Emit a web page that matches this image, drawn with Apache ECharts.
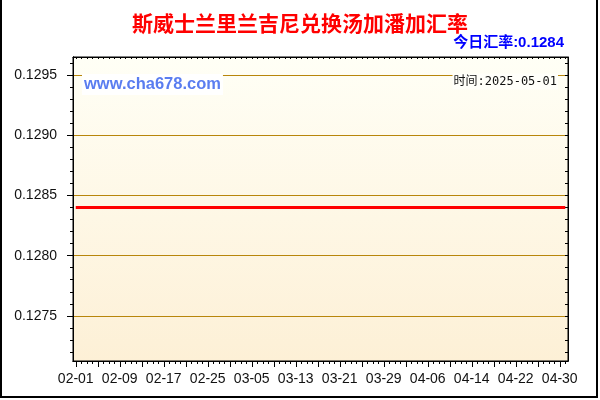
<!DOCTYPE html>
<html>
<head>
<meta charset="utf-8">
<script src="https://cdn.jsdelivr.net/npm/echarts@6/dist/echarts.min.js"></script>
<style>
  html, body { margin: 0; padding: 0; background: #fff; }
  #chart { width: 600px; height: 400px; }
</style>
</head>
<body>
<div id="chart"></div>
<script>
// 日期（02-01 ~ 05-01）
var dates = [
  '02-01','02-02','02-03','02-04','02-05','02-06','02-07','02-08','02-09','02-10',
  '02-11','02-12','02-13','02-14','02-15','02-16','02-17','02-18','02-19','02-20',
  '02-21','02-22','02-23','02-24','02-25','02-26','02-27','02-28',
  '03-01','03-02','03-03','03-04','03-05','03-06','03-07','03-08','03-09','03-10',
  '03-11','03-12','03-13','03-14','03-15','03-16','03-17','03-18','03-19','03-20',
  '03-21','03-22','03-23','03-24','03-25','03-26','03-27','03-28','03-29','03-30','03-31',
  '04-01','04-02','04-03','04-04','04-05','04-06','04-07','04-08','04-09','04-10',
  '04-11','04-12','04-13','04-14','04-15','04-16','04-17','04-18','04-19','04-20',
  '04-21','04-22','04-23','04-24','04-25','04-26','04-27','04-28','04-29','04-30',
  '05-01'
]

// 汇率
var rates = [
  0.1284,0.1284,0.1284,0.1284,0.1284,0.1284,0.1284,0.1284,0.1284,0.1284,
  0.1284,0.1284,0.1284,0.1284,0.1284,0.1284,0.1284,0.1284,0.1284,0.1284,
  0.1284,0.1284,0.1284,0.1284,0.1284,0.1284,0.1284,0.1284,
  0.1284,0.1284,0.1284,0.1284,0.1284,0.1284,0.1284,0.1284,0.1284,0.1284,
  0.1284,0.1284,0.1284,0.1284,0.1284,0.1284,0.1284,0.1284,0.1284,0.1284,
  0.1284,0.1284,0.1284,0.1284,0.1284,0.1284,0.1284,0.1284,0.1284,0.1284,0.1284,
  0.1284,0.1284,0.1284,0.1284,0.1284,0.1284,0.1284,0.1284,0.1284,0.1284,
  0.1284,0.1284,0.1284,0.1284,0.1284,0.1284,0.1284,0.1284,0.1284,0.1284,
  0.1284,0.1284,0.1284,0.1284,0.1284,0.1284,0.1284,0.1284,0.1284,0.1284,
  0.1284
]

// Y 轴刻度
var yTicks = [0.1275, 0.1280, 0.1285, 0.1290, 0.1295]
var yMinorTicks = [
  0.1272,0.1273,0.1274,0.1275,0.1276,0.1277,0.1278,0.1279,0.1280,0.1281,
  0.1282,0.1283,0.1284,0.1285,0.1286,0.1287,0.1288,0.1289,0.1290,0.1291,
  0.1292,0.1293,0.1294,0.1295,0.1296
]
var yMin = 0.127125
var yMax = 0.12965

var titleText = '斯威士兰里兰吉尼兑换汤加潘加汇率'
var todayText = '今日汇率:0.1284'
var siteText = 'www.cha678.com'
var timeText = '时间:2025-05-01'

var chart = echarts.init(document.getElementById('chart'))

var black = '#000'
var gridColor = '#b8860b'

var xBase = {
  type: 'category',
  data: dates,
  boundaryGap: true,
  axisLine: { show: true, lineStyle: { color: black } },
  splitLine: { show: false }
}

var yBase = {
  type: 'value',
  min: yMin,
  max: yMax,
  axisLine: { show: true, lineStyle: { color: black } },
  splitLine: { show: false },
  axisLabel: { show: false }
}

chart.setOption({
  animation: false,
  backgroundColor: '#fff',
  grid: {
    left: 73, right: 32, top: 57, bottom: 39,
    show: true,
    borderColor: black,
    borderWidth: 1,
    backgroundColor: {
      type: 'linear', x: 0, y: 0, x2: 0, y2: 1,
      colorStops: [
        { offset: 0, color: '#fffff6' },
        { offset: 1, color: '#fdf0d6' }
      ]
    }
  },
  xAxis: [
    Object.assign({}, xBase, {
      position: 'bottom',
      axisTick: {
        show: true, alignWithLabel: true, length: 6, lineStyle: { color: black },
        interval: function (i) { return i % 4 === 0 }
      },
      axisLabel: {
        margin: 11, fontSize: 14, color: '#111', fontFamily: 'Liberation Sans, Arial',
        interval: function (i) { return i % 8 === 0 }
      }
    }),
    Object.assign({}, xBase, {
      position: 'bottom',
      axisTick: { show: true, alignWithLabel: true, length: 3, interval: 0, lineStyle: { color: black } },
      axisLabel: { show: false }
    }),
    Object.assign({}, xBase, {
      position: 'top',
      axisTick: { show: true, alignWithLabel: true, inside: true, length: 2, interval: 0, lineStyle: { color: black } },
      axisLabel: { show: false }
    })
  ],
  yAxis: [
    Object.assign({}, yBase, {
      position: 'left',
      axisTick: { show: true, length: 6, customValues: yTicks, lineStyle: { color: black } },
      axisLabel: {
        show: true, customValues: yTicks, margin: 16, fontSize: 14, color: '#111',
        fontFamily: 'Liberation Sans, Arial',
        formatter: function (v) { return v.toFixed(4) }
      },
      splitLine: { show: true, lineStyle: { color: gridColor, width: 1 } }
    }),
    Object.assign({}, yBase, {
      position: 'left',
      axisTick: { show: true, length: 3, customValues: yMinorTicks, lineStyle: { color: black } }
    }),
    Object.assign({}, yBase, {
      position: 'right',
      axisTick: { show: true, inside: true, length: 3, customValues: yMinorTicks, lineStyle: { color: black } }
    })
  ],
  series: [{
    type: 'line',
    data: rates,
    xAxisIndex: 0,
    yAxisIndex: 0,
    symbol: 'none',
    lineStyle: { color: '#ff0000', width: 3 },
    z: 5
  }],
  graphic: [
    {
      type: 'rect', silent: true, z: 100,
      shape: { x: 1, y: -2, width: 596, height: 399 },
      style: { fill: 'none', stroke: black, lineWidth: 2 }
    },
    {
      type: 'text', x: 300, y: 23, z: 100,
      style: {
        text: titleText, fill: '#ff0000', align: 'center', verticalAlign: 'middle',
        font: 'bold 21px "Noto Sans CJK SC", sans-serif'
      }
    },
    {
      type: 'text', x: 564, y: 43, z: 100,
      style: {
        text: todayText, fill: '#0000ff', align: 'right', verticalAlign: 'middle',
        font: 'bold 15px "Liberation Sans", "Noto Sans CJK SC", sans-serif'
      }
    },
    {
      type: 'text', x: 82, y: 84.5, z: 100,
      style: {
        text: siteText, fill: '#5a7df0', align: 'left', verticalAlign: 'middle',
        font: 'bold 16.5px "Liberation Sans", Arial, sans-serif',
        backgroundColor: '#ffffff', padding: [2, 2, 2, 2]
      }
    },
    {
      type: 'text', x: 558, y: 81.5, z: 100,
      style: {
        text: timeText, fill: '#111', align: 'right', verticalAlign: 'middle',
        font: '12px "DejaVu Sans Mono", "Noto Sans CJK SC", monospace',
        backgroundColor: '#fffffa', padding: [2, 1, 2, 1]
      }
    }
  ]
})
</script>
</body>
</html>
